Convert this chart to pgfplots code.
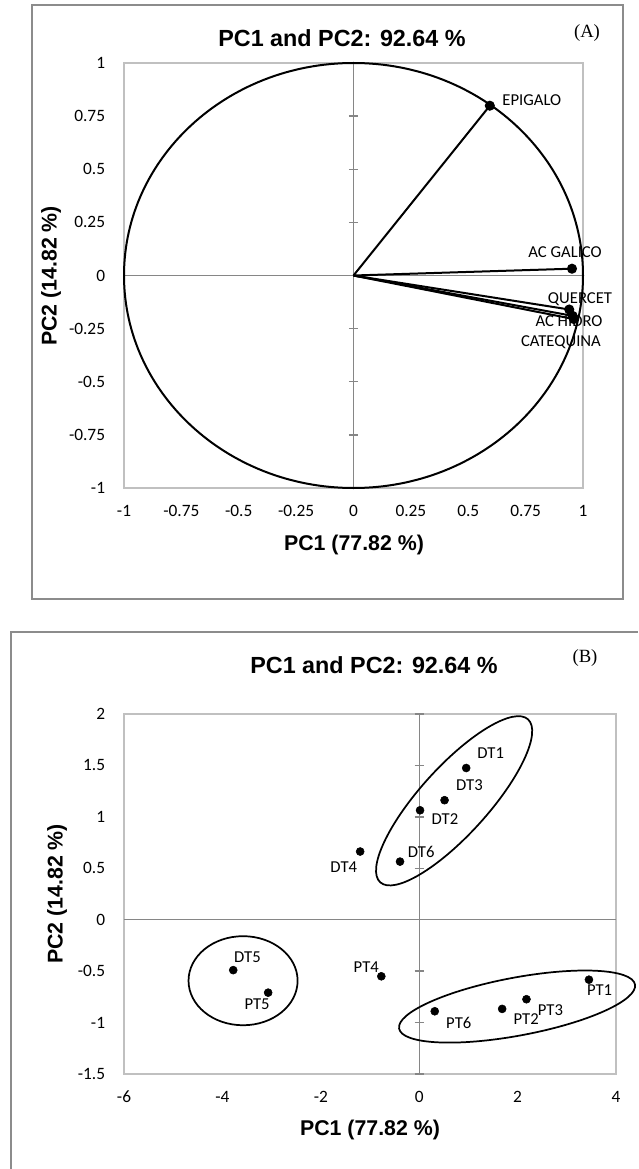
\documentclass[border=0pt]{standalone}
\usepackage{pgfplots}
\pgfplotsset{compat=1.18}
\usepackage{fontspec}
\setmainfont{Carlito}
\newfontfamily\arialf{Liberation Sans}
\newfontfamily\timesf{Liberation Serif}
\definecolor{framegray}{HTML}{8C8C8C}
\definecolor{plotgray}{HTML}{C0C0C0}
\definecolor{axgray}{HTML}{868686}

\pgfplotsset{
  pcaaxis/.style={
    scale only axis, anchor=south west,
    axis line style={draw=plotgray, line width=1pt},
    major tick length=0pt,
    tick label style={font=\fontsize{13}{15}\selectfont},
    /pgf/number format/assume math mode=true,
    xticklabel style={inner sep=0pt, anchor=north, yshift=-12.5pt},
    yticklabel style={inner sep=0pt, anchor=east, xshift=-14pt},
    clip=false,
  },
  vec/.style={black, line width=1.5pt, mark=*, mark size=3pt, mark indices={2}, mark options={solid, fill=black}},
}
\tikzset{lab/.style={font=\fontsize{12.5}{14}\selectfont, inner sep=0pt},
  ttl/.style={font=\arialf\bfseries\fontsize{17.5}{20}\selectfont},
  axl/.style={font=\arialf\bfseries\fontsize{16}{18}\selectfont},
  pan/.style={font=\timesf\fontsize{14}{16}\selectfont}}

\begin{document}
\begin{tikzpicture}
\useasboundingbox (0pt,0pt) rectangle (478.5pt,-876.75pt);
% frames
\draw[framegray, line width=1.2pt] (24pt,-3.75pt) rectangle (467.25pt,-449.25pt);
\draw[framegray, line width=1.2pt] (8.25pt,-876.75pt) -- (8.25pt,-474pt) -- (478.5pt,-474pt);

% ---------------- Panel A ----------------
\begin{axis}[pcaaxis, at={(93pt,-366pt)}, width=344.25pt, height=318.75pt,
  xmin=-1, xmax=1, ymin=-1, ymax=1,
  xtick={-1,-0.75,-0.5,-0.25,0,0.25,0.5,0.75,1},
  ytick={-1,-0.75,-0.5,-0.25,0,0.25,0.5,0.75,1}]
\draw[axgray, line width=1pt] (axis cs:-1,0) -- (axis cs:1,0);
\draw[axgray, line width=1pt] (axis cs:0,-1) -- (axis cs:0,1);
\pgfplotsinvokeforeach{-1,-0.75,-0.5,-0.25,0.25,0.5,0.75,1}{
  \draw[axgray, line width=1pt] (axis cs:0,#1) ++(-3.5pt,0pt) -- ++(7pt,0pt);
}
\draw[black, line width=1.5pt] (axis cs:0,0) ellipse [x radius=1, y radius=1];
\addplot[vec] coordinates {(0,0) (0.594,0.799)};
\addplot[vec] coordinates {(0,0) (0.952,0.032)};
\addplot[vec] coordinates {(0,0) (0.940,-0.160)};
\addplot[vec] coordinates {(0,0) (0.955,-0.190)};
\addplot[vec] coordinates {(0,0) (0.960,-0.205)};
\node[lab] at (axis cs:0.777,0.826) {EPIGALO};
\node[lab] at (axis cs:0.922,0.112) {AC GALICO};
\node[lab] at (axis cs:0.987,-0.111) {QUERCET};
\node[lab] at (axis cs:0.939,-0.217) {AC HIDRO};
\node[lab] at (axis cs:0.904,-0.314) {CATEQUINA};
\end{axis}
\node[ttl] at (256.5pt,-28.5pt) {PC1 and PC2: 92.64 \%};
\node[pan] at (440.25pt,-24.75pt) {(A)};
\node[axl] at (265.5pt,-408.75pt) {PC1 (77.82 \%)};
\node[axl, rotate=90] at (38.25pt,-207pt) {PC2 (14.82 \%)};

% ---------------- Panel B ----------------
\begin{axis}[pcaaxis, at={(93pt,-805.5pt)}, width=369pt, height=270pt,
  xmin=-6, xmax=4, ymin=-1.5, ymax=2,
  xtick={-6,-4,-2,0,2,4},
  ytick={-1.5,-1,-0.5,0,0.5,1,1.5,2}]
\draw[axgray, line width=1pt] (axis cs:-6,0) -- (axis cs:4,0);
\draw[axgray, line width=1pt] (axis cs:0,-1.5) -- (axis cs:0,2);
\pgfplotsinvokeforeach{-1.5,-1,-0.5,0.5,1,1.5,2}{
  \draw[axgray, line width=1pt] (axis cs:0,#1) ++(-3.5pt,0pt) -- ++(7pt,0pt);
}
\addplot[only marks, mark=*, mark size=3pt, black] coordinates {
  (0.955,1.475) (0.515,1.162) (0.017,1.064) (-0.39,0.565) (-1.2,0.663)
  (-3.78,-0.49) (-3.07,-0.709) (-0.77,-0.55)
  (0.316,-0.89) (1.686,-0.867) (2.18,-0.773) (3.45,-0.583)};
\node[lab, xshift=18.4pt, yshift=11.5pt] at (axis cs:0.955,1.475) {DT1};
\node[lab, xshift=18.7pt, yshift=11.5pt] at (axis cs:0.515,1.162) {DT3};
\node[lab, xshift=18.7pt, yshift=-6.8pt] at (axis cs:0.017,1.064) {DT2};
\node[lab, xshift=15.9pt, yshift=7pt] at (axis cs:-0.39,0.565) {DT6};
\node[lab, xshift=-12.3pt, yshift=-11.8pt] at (axis cs:-1.2,0.663) {DT4};
\node[lab, xshift=10.7pt, yshift=9.5pt] at (axis cs:-3.78,-0.49) {DT5};
\node[lab, xshift=-8.3pt, yshift=-8.8pt] at (axis cs:-3.07,-0.709) {PT5};
\node[lab, xshift=-11.3pt, yshift=6.5pt] at (axis cs:-0.77,-0.55) {PT4};
\node[lab, xshift=18pt, yshift=-8.8pt] at (axis cs:0.316,-0.89) {PT6};
\node[lab, xshift=18pt, yshift=-8pt] at (axis cs:1.686,-0.867) {PT2};
\node[lab, xshift=18pt, yshift=-8.3pt] at (axis cs:2.18,-0.773) {PT3};
\node[lab, xshift=8pt, yshift=-8pt] at (axis cs:3.45,-0.583) {PT1};
\coordinate (e1) at (axis cs:0.71,1.156);
\coordinate (e2) at (axis cs:1.99,-0.845);
\coordinate (e3) at (axis cs:-3.58,-0.593);
\end{axis}
\draw[black, line width=1.3pt, rotate around={47.8:(e1)}] (e1) ellipse [x radius=82.5pt, y radius=25.5pt];
\draw[black, line width=1.3pt, rotate around={10.6:(e2)}] (e2) ellipse [x radius=90pt, y radius=21.75pt];
\draw[black, line width=1.3pt] (e3) ellipse [x radius=40.9pt, y radius=33.4pt];
\node[ttl] at (280.5pt,-498.75pt) {PC1 and PC2: 92.64 \%};
\node[pan] at (438.75pt,-493.5pt) {(B)};
\node[axl] at (277.5pt,-847.5pt) {PC1 (77.82 \%)};
\node[axl, rotate=90] at (42.75pt,-670.5pt) {PC2 (14.82 \%)};
\end{tikzpicture}
\end{document}
